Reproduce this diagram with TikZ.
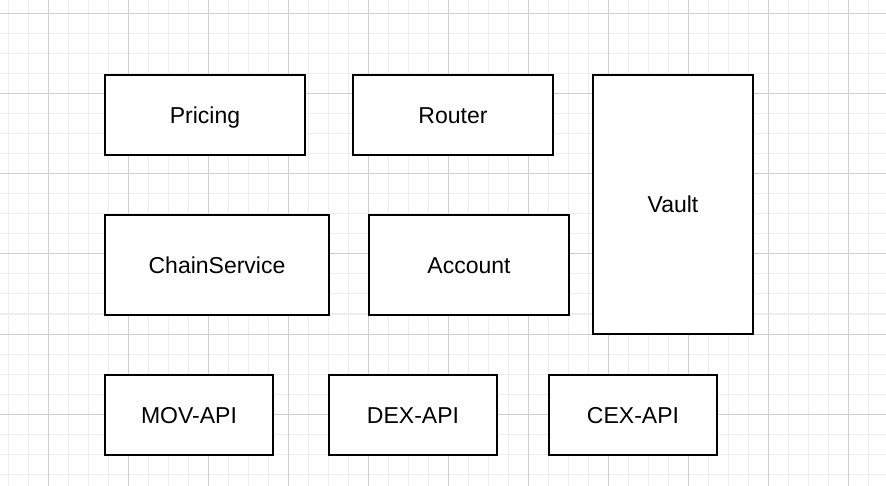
\documentclass[tikz,border=0pt]{standalone}
\usepackage{fontspec}
\setmainfont{Liberation Sans}
\usepackage{tikz}

\definecolor{minorgrid}{HTML}{EDEDED}
\definecolor{majorgrid}{HTML}{D0D0D0}

\begin{document}
\begin{tikzpicture}[x=1pt,y=-1pt,
    every node/.style={draw,line width=1.7pt,fill=white,inner sep=0pt,
      text height=16.5pt,text depth=0pt,
      font=\fontsize{23}{27}\selectfont},
    minorline/.style={draw=minorgrid,line width=1pt},
    majorline/.style={draw=majorgrid,line width=1pt}]
    \useasboundingbox (0,0) rectangle (886,486);
    \fill[white] (0,0) rectangle (886,486);

    % grid
    \foreach \x in {8,28,...,888} \draw[minorline] (\x,0) -- (\x,486);
    \foreach \y in {14,34,...,486} \draw[minorline] (0,\y) -- (886,\y);
    \foreach \x in {48,128,...,888} \draw[majorline] (\x,0) -- (\x,486);
    \foreach \y in {14,94,...,486} \draw[majorline] (0,\y) -- (886,\y);

    \node[minimum width=200pt,minimum height=80pt] (pricing) at (205, 115) {Pricing};
    \node[minimum width=200pt,minimum height=80pt] (router) at (453, 115) {Router};
    \node[minimum width=160pt,minimum height=259pt] (vault) at (673, 204.5) {Vault};
    \node[minimum width=224pt,minimum height=100pt] (chain) at (217, 265) {ChainService};
    \node[minimum width=200pt,minimum height=100pt] (account) at (469, 265) {Account};
    \node[minimum width=168pt,minimum height=80pt] (mov) at (189, 415) {MOV-API};
    \node[minimum width=168pt,minimum height=80pt] (dex) at (413, 415) {DEX-API};
    \node[minimum width=168pt,minimum height=80pt] (cex) at (633, 415) {CEX-API};
  \end{tikzpicture}
\end{document}
